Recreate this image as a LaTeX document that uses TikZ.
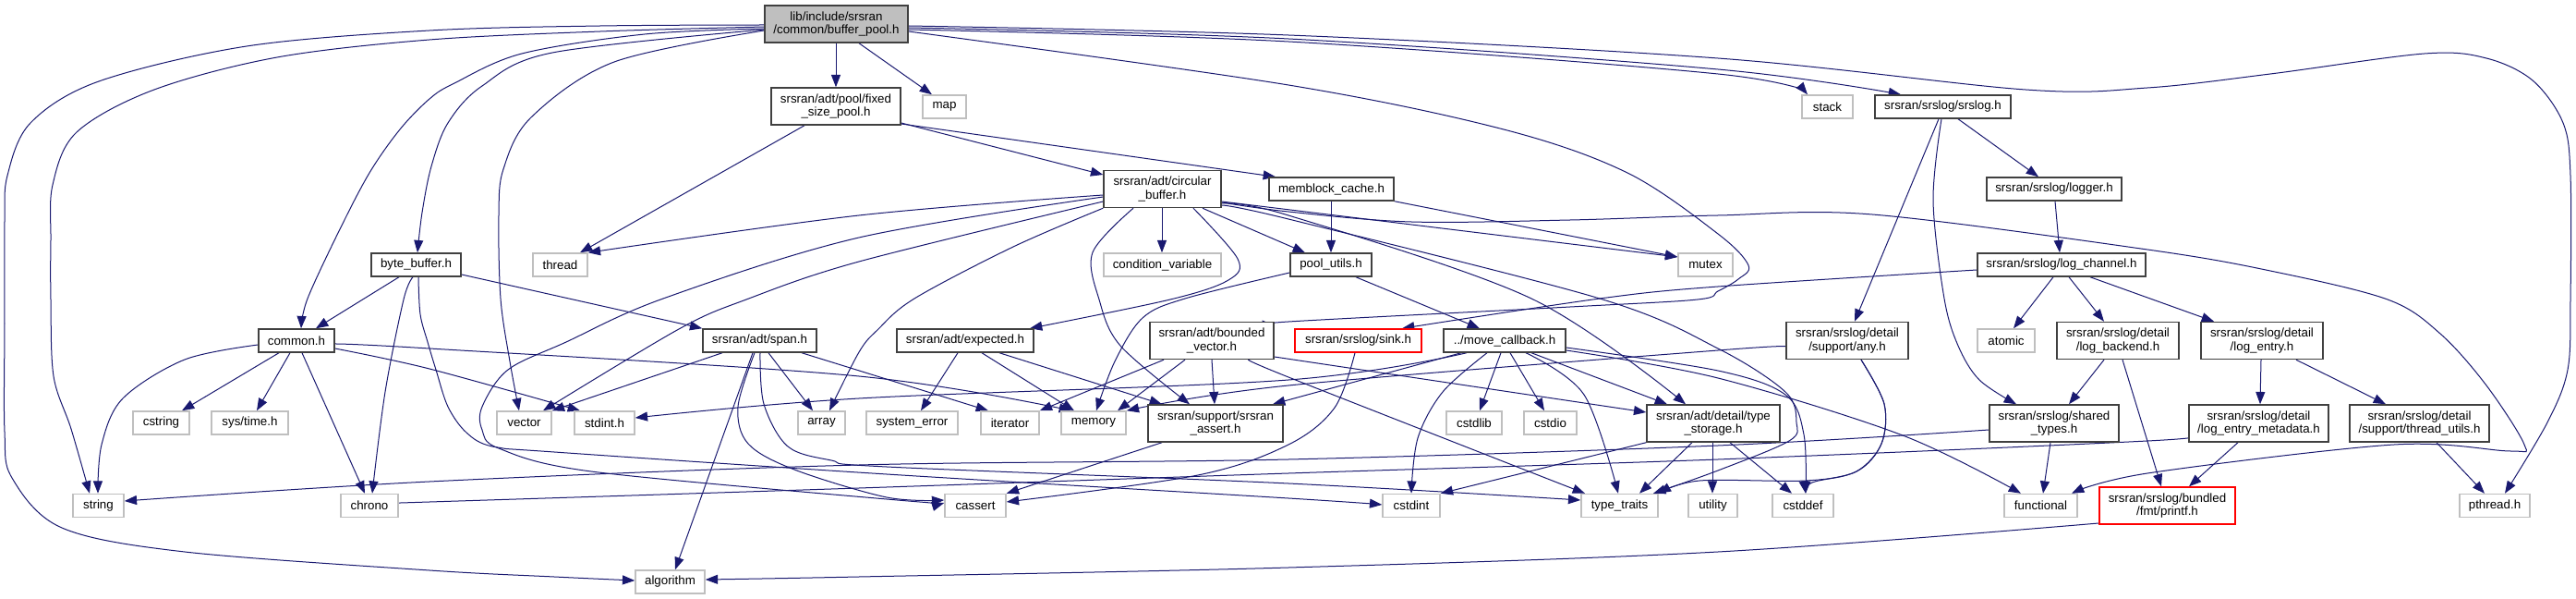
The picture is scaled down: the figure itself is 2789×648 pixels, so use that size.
\documentclass[tikz,border=0pt]{standalone}
\usepackage{fontspec}
\setmainfont{Liberation Sans}
\usetikzlibrary{arrows.meta,backgrounds}
\definecolor{edgec}{HTML}{191970}
\definecolor{bdark}{HTML}{404040}
\definecolor{blight}{HTML}{BFBFBF}
\tikzset{
 nd/.style={draw=bdark, line width=1.1pt, fill=white, inner sep=0pt, align=center, font=\fontsize{10}{11}\selectfont, text=black, minimum height=18.75pt},
 sys/.style={nd, draw=blight},
 trunc/.style={nd, draw=red},
 rootnd/.style={nd, fill=blight},
 tall/.style={minimum height=30pt},
 w/.style={minimum width=#1*0.75pt},
 e/.style={draw=edgec, line width=0.75pt, -{Triangle[length=10pt,width=7.5pt]}},
 sm/.style={smooth, tension=0.55}
}
\begin{document}
\begin{tikzpicture}[x=0.75pt,y=-0.75pt]
\useasboundingbox (0,0) rectangle (2789,648);
% ---------------- nodes
\node[rootnd, w=155, tall] (root) at (905.5,26) {lib/include/srsran\\/common/buffer\_pool.h};
\node[nd, w=140, tall] (fsp) at (905,115) {srsran/adt/pool/fixed\\\_size\_pool.h};
\node[sys, w=47] (map) at (1022.5,115.5) {map};
\node[sys, w=55] (stack) at (1978.5,115.5) {stack};
\node[nd, w=147] (srslog) at (2103.5,115.5) {srsran/srslog/srslog.h};
\node[nd, w=127, tall] (cbuf) at (1258.5,204.5) {srsran/adt/circular\\\_buffer.h};
\node[nd, w=135] (memblock) at (1441.5,204.5) {memblock\_cache.h};
\node[nd, w=146] (logger) at (2224,204.5) {srsran/srslog/logger.h};
\node[nd, w=97] (bytebuf) at (450.5,286.5) {byte\_buffer.h};
\node[sys, w=59] (thread) at (606.5,286.5) {thread};
\node[sys, w=127] (condvar) at (1258.5,286.5) {condition\_variable};
\node[nd, w=88] (poolutils) at (1441,286.5) {pool\_utils.h};
\node[sys, w=59] (mutex) at (1846.5,286.5) {mutex};
\node[nd, w=182] (logchan) at (2232,286.5) {srsran/srslog/log\_channel.h};
\node[nd, w=82] (common) at (321,368.5) {common.h};
\node[nd, w=123] (span) at (822.5,368.5) {srsran/adt/span.h};
\node[nd, w=148] (expected) at (1045,368.5) {srsran/adt/expected.h};
\node[nd, w=134, tall] (bv) at (1312,368.5) {srsran/adt/bounded\\\_vector.h};
\node[trunc, w=137] (sink) at (1470.5,368.5) {srsran/srslog/sink.h};
\node[nd, w=132] (movecb) at (1629,368.5) {../move\_callback.h};
\node[nd, w=132, tall] (any) at (2000,368.5) {srsran/srslog/detail\\/support/any.h};
\node[sys, w=62] (atomic) at (2172,368.5) {atomic};
\node[nd, w=132, tall] (lb) at (2293,368.5) {srsran/srslog/detail\\/log\_backend.h};
\node[nd, w=132, tall] (le) at (2449,368.5) {srsran/srslog/detail\\/log\_entry.h};
\node[sys, w=61] (cstring) at (174.5,457.5) {cstring};
\node[sys, w=83] (systime) at (270.5,457.5) {sys/time.h};
\node[sys, w=59] (vector) at (567.5,457.5) {vector};
\node[sys, w=65] (stdinth) at (654.5,457.5) {stdint.h};
\node[sys, w=51] (array) at (889.5,457.5) {array};
\node[sys, w=99] (syserr) at (987.5,457.5) {system\_error};
\node[sys, w=63] (iterator) at (1093.5,457.5) {iterator};
\node[sys, w=70] (memory) at (1184,457.5) {memory};
\node[nd, w=146, tall] (assert) at (1316,458) {srsran/support/srsran\\\_assert.h};
\node[sys, w=60] (cstdlib) at (1596,457.5) {cstdlib};
\node[sys, w=57] (cstdio) at (1678.5,457.5) {cstdio};
\node[nd, w=144, tall] (ts) at (1855,458) {srsran/adt/detail/type\\\_storage.h};
\node[nd, w=140, tall] (shared) at (2224,458) {srsran/srslog/shared\\\_types.h};
\node[nd, w=151, tall] (lemeta) at (2445.5,458) {srsran/srslog/detail\\/log\_entry\_metadata.h};
\node[nd, w=151, tall] (tu) at (2619.5,458) {srsran/srslog/detail\\/support/thread\_utils.h};
\node[sys, w=55] (string) at (106.5,547) {string};
\node[sys, w=62] (chrono) at (400,547) {chrono};
\node[sys, w=66] (cassert) at (1056,547) {cassert};
\node[sys, w=62] (cstdint) at (1528,547) {cstdint};
\node[sys, w=83] (typetraits) at (1753.5,547) {type\_traits};
\node[sys, w=53] (utility) at (1854.5,547) {utility};
\node[sys, w=66] (cstddef) at (1952,547) {cstddef};
\node[sys, w=79] (functional) at (2209.5,547) {functional};
\node[trunc, w=147, tall] (printf) at (2346.5,547) {srsran/srslog/bundled\\/fmt/printf.h};
\node[sys, w=76] (pthread) at (2701,547) {pthread.h};
\node[sys, w=75] (algorithm) at (725.5,629.5) {algorithm};
% ---------------- edges
\begin{scope}[on background layer]
\fill[white] (0,0) rectangle (2789,648);
% root
\draw[e] (root.south -| 905,0) -- (fsp.north -| 905,0);
\draw[e] (root.south -| 930,0) -- (map.north -| 1009,0);
\draw[e] plot[sm] coordinates {(root.west |- 0,27) (650,28) (465,33) (267,50) (107,88) (33,133) (8,190) (5,240) (5,350) (5,467) (13,517) (67,571) (200,597) (465,617) (600,624) (algorithm.west |- 0,628)};
\draw[e] plot[sm] coordinates {(root.west |- 0,29) (650,34) (465,43) (300,62) (167,97) (83,143) (57,200) (55,260) (55,324) (58,407) (77,464) (string.north -| 97,0)};
\draw[e] plot[sm] coordinates {(root.west |- 0,31) (698,37) (565,58) (492,90) (465,107) (433,140) (400,187) (367,250) (333,323) (common.north -| 326,0)};
\draw[e] plot[sm] coordinates {(root.west |- 0,32) (598,57) (522,93) (485,133) (467,180) (457,230) (bytebuf.north -| 452,0)};
\draw[e] plot[sm] coordinates {(root.west |- 0,33) (665,67) (575,127) (545,183) (540,233) (542,323) (552,391) (vector.north -| 562,0)};
\draw[e] plot[sm] coordinates {(root.east |- 0,32) (1395,45) (1860,80) (stack.north -| 1957,0)};
\draw[e] plot[sm] coordinates {(root.east |- 0,30) (1395,42) (1860,75) (srslog.north -| 2058,0)};
\draw[e] plot[sm] coordinates {(root.east |- 0,28) (1395,38) (1860,63) (2193,97) (2325,95) (2458,80) (2625,58) (2692,63) (2742,87) (2775,133) (2783,190) (2783,324) (2780,400) (2758,457) (pthread.north -| 2712,0)};
\draw[e] plot[sm] coordinates {(root.east |- 0,34) (1395,92) (1628,140) (1762,187) (1860,253) (1893,287) (1882,302) (1860,315) (1838,324) (1700,332) (1395,348) (bv.east |- 0,352)};
% fixed size pool
\draw[e] (fsp.south -| 871,0) -- (thread.north -| 628,0);
\draw[e] (fsp.east |- 0,133) -- (cbuf.west |- 0,189);
\draw[e] (fsp.east |- 0,134) -- (memblock.north -| 1381,0);
% srslog
\draw[e] (srslog.south -| 2120,0) -- (logger.north -| 2207,0);
\draw[e] (srslog.south -| 2099,0) -- (any.north -| 2008,0);
\draw[e] plot[sm] coordinates {(srslog.south -| 2102,0) (2093,217) (2105,323) (2120,374) (2143,411) (shared.north -| 2183,0)};
\draw[e] (logger.south -| 2225,0) -- (logchan.north -| 2230,0);
% circular buffer
\draw[e] (cbuf.south -| 1258,0) -- (condvar.north -| 1258,0);
\draw[e] plot[sm] coordinates {(cbuf.west |- 0,211) (930,233) (thread.north east)};
\draw[e] plot[sm] coordinates {(cbuf.west |- 0,213) (930,257) (718,323) (613,370) (550,400) (522,440) (522,465) (540,485) (640,510) (960,540) (cassert.west |- 0,544)};
\draw[e] plot[sm] coordinates {(cbuf.west |- 0,218) (930,283) (808,324) (735,356) (vector.north -| 588,0)};
\draw[e] plot[sm] coordinates {(cbuf.south west) (1097,267) (990,323) (950,357) (930,381) (array.north -| 898,0)};
\draw[e] plot[sm] coordinates {(cbuf.south -| 1292,0) (1340,280) (1330,303) (1267,324) (expected.north -| 1115,0)};
\draw[e] plot[sm] coordinates {(cbuf.south -| 1227,0) (1183,273) (1190,324) (1213,374) (assert.north -| 1288,0)};
\draw[e] (cbuf.south -| 1302,0) -- (poolutils.north -| 1413,0);
\draw[e] (cbuf.east |- 0,218) -- (mutex.west |- 0,278);
\draw[e] plot[sm] coordinates {(cbuf.east |- 0,219) (1395,229) (1528,240) (1700,238) (1860,233) (2027,232) (2325,270) (2458,293) (2585,324) (2642,361) (2692,417) (2733,481) (2718,488) (2592,481) (2325,512) (functional.north -| 2243,0)};
\draw[e] plot[sm] coordinates {(cbuf.east |- 0,220) (1395,233) (1658,323) (ts.north -| 1825,0)};
\draw[e] plot[sm] coordinates {(cbuf.east |- 0,222) (1395,237) (1732,323) (1860,377) (1933,424) (1945,457) (1937,477) (1860,509) (typetraits.north -| 1790,0)};
% memblock / pool utils
\draw[e] (memblock.south -| 1441,0) -- (poolutils.north -| 1441,0);
\draw[e] (memblock.south east) -- (mutex.west |- 0,278);
\draw[e] (poolutils.south -| 1468,0) -- (movecb.north -| 1602,0);
\draw[e] plot[sm] coordinates {(poolutils.west |- 0,295) (1283,323) (1237,344) (1207,391) (memory.north -| 1187,0)};
% byte buffer
\draw[e] (bytebuf.south -| 432,0) -- (common.north -| 342,0);
\draw[e] (bytebuf.east |- 0,297) -- (span.north west);
\draw[e] plot[sm] coordinates {(bytebuf.south -| 447,0) (437,324) (417,424) (chrono.north -| 403,0)};
\draw[e] plot[sm] coordinates {(bytebuf.south -| 453,0) (455,340) (463,370) (472,400) (485,440) (505,468) (533,483) (600,489) (960,513) (1395,539) (cstdint.west |- 0,546)};
% common
\draw[e] plot[sm] coordinates {(common.west |- 0,373) (200,389) (133,431) (110,481) (string.north -| 106,0)};
\draw[e] (common.south -| 302,0) -- (cstring.north -| 197,0);
\draw[e] (common.south -| 314,0) -- (systime.north -| 278,0);
\draw[e] (common.south -| 327,0) -- (chrono.north -| 395,0);
\draw[e] plot[sm] coordinates {(common.east |- 0,372) (465,377) (930,407) (memory.north -| 1160,0)};
\draw[e] plot[sm] coordinates {(common.east |- 0,377) (465,399) (stdinth.north -| 628,0)};
% span
\draw[e] (span.south -| 782,0) -- (vector.north east);
\draw[e] (span.south -| 832,0) -- (array.north -| 880,0);
\draw[e] (span.south -| 815,0) -- (algorithm.north -| 731,0);
\draw[e] (span.south -| 868,0) -- (iterator.north -| 1070,0);
\draw[e] plot[sm] coordinates {(span.south -| 817,0) (799,440) (810,480) (860,508) (960,538) (cassert.west |- 0,541)};
\draw[e] plot[sm] coordinates {(span.south -| 823,0) (827,437) (853,483) (900,498) (960,505) (1395,523) (typetraits.west |- 0,541)};
% expected
\draw[e] (expected.south -| 1037,0) -- (syserr.north -| 997,0);
\draw[e] (expected.south -| 1063,0) -- (memory.north -| 1163,0);
\draw[e] (expected.south -| 1082,0) -- (assert.north -| 1258,0);
% bounded vector
\draw[e] (bv.south -| 1260,0) -- (iterator.north east);
\draw[e] (bv.south -| 1283,0) -- (memory.north -| 1210,0);
\draw[e] (bv.south -| 1312,0) -- (assert.north -| 1315,0);
\draw[e] plot[sm] coordinates {(bv.south -| 1353,0) (1395,408) (typetraits.north -| 1716,0)};
\draw[e] (bv.east |- 0,386) -- (ts.west |- 0,446);
% sink
\draw[e] plot[sm] coordinates {(sink.south -| 1467,0) (1445,441) (1395,481) (1297,514) (cassert.east |- 0,543)};
% move callback
\draw[e] (movecb.south -| 1625,0) -- (cstdlib.north -| 1602,0);
\draw[e] (movecb.south -| 1635,0) -- (cstdio.north -| 1672,0);
\draw[e] plot[sm] coordinates {(movecb.south -| 1610,0) (1562,424) (1535,474) (cstdint.north -| 1528,0)};
\draw[e] plot[sm] coordinates {(movecb.south -| 1652,0) (1715,427) (typetraits.north -| 1752,0)};
\draw[e] (movecb.south -| 1658,0) -- (ts.north -| 1805,0);
\draw[e] plot[sm] coordinates {(movecb.east |- 0,379) (1860,409) (2060,471) (functional.north -| 2188,0)};
\draw[e] plot[sm] coordinates {(movecb.east |- 0,376) (1860,401) (1933,427) (1953,470) (cstddef.north -| 1955,0)};
\draw[e] (movecb.south -| 1582,0) -- (assert.north -| 1378,0);
\draw[e] plot[sm] coordinates {(movecb.south -| 1588,0) (1395,411) (930,431) (stdinth.east |- 0,452)};
% any
\draw[e] plot[sm] coordinates {(any.west |- 0,375) (1860,379) (1395,417) (memory.north east)};
\draw[e] plot[sm] coordinates {(any.south -| 2015,0) (2040,437) (2037,480) (2010,510) (1962,522) (cstddef.north -| 1955,0)};
\draw[e] plot[sm] coordinates {(any.south -| 2015,0) (2040,437) (2037,480) (2010,510) (1955,520) (1840,520) (typetraits.north east)};
% log channel etc
\draw[e] plot[sm] coordinates {(logchan.west |- 0,292) (1860,310) (1732,323) (sink.north -| 1518,0)};
\draw[e] (logchan.south -| 2223,0) -- (atomic.north -| 2180,0);
\draw[e] (logchan.south -| 2240,0) -- (lb.north -| 2278,0);
\draw[e] (logchan.south -| 2263,0) -- (le.north -| 2397,0);
\draw[e] (lb.south -| 2278,0) -- (shared.north -| 2240,0);
\draw[e] (lb.south -| 2298,0) -- (printf.north -| 2340,0);
\draw[e] (le.south -| 2448,0) -- (lemeta.north -| 2447,0);
\draw[e] (le.south -| 2486,0) -- (tu.north -| 2583,0);
\draw[e] (shared.south -| 2220,0) -- (functional.north -| 2212,0);
\draw[e] plot[sm] coordinates {(shared.west |- 0,465) (1860,482) (1395,497) (930,503) (465,521) (string.east |- 0,542)};
\draw[e] (lemeta.south -| 2423,0) -- (printf.north -| 2370,0);
\draw[e] plot[sm] coordinates {(lemeta.west |- 0,471) (2325,477) (1860,497) (1395,512) (930,528) (465,543) (chrono.east |- 0,544)};
\draw[e] (tu.south -| 2638,0) -- (pthread.north -| 2690,0);
% type storage
\draw[e] (ts.south west) -- (cstdint.north east);
\draw[e] (ts.south -| 1832,0) -- (typetraits.north -| 1775,0);
\draw[e] (ts.south -| 1854,0) -- (utility.north -| 1854,0);
\draw[e] (ts.south -| 1873,0) -- (cstddef.north -| 1940,0);
% assert, printf
\draw[e] (assert.south -| 1258,0) -- (cassert.north east);
\draw[e] plot[sm] coordinates {(printf.west |- 0,566) (1860,597) (1395,614) (930,624) (algorithm.east |- 0,627)};
\end{scope}
\end{tikzpicture}
\end{document}
